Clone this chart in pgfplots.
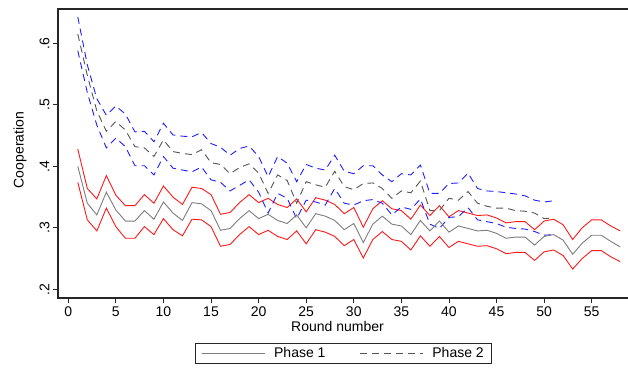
\documentclass[border=0pt]{standalone}
\usepackage{fontspec}
\setmainfont{Liberation Sans}
\usepackage{pgfplots}
\usepackage{pgfplotstable}
\pgfplotsset{compat=1.18}
\definecolor{cred}{RGB}{255,25,25}
\definecolor{cblue}{RGB}{30,30,255}
\definecolor{cgray}{RGB}{125,125,125}
\definecolor{cdgray}{RGB}{85,85,85}
\pgfplotstableread{
r m u l
1 0.400 0.428 0.374
2 0.340 0.364 0.313
3 0.321 0.347 0.295
4 0.358 0.385 0.332
5 0.329 0.353 0.302
6 0.311 0.336 0.283
7 0.311 0.336 0.283
8 0.328 0.354 0.302
9 0.314 0.340 0.289
10 0.342 0.368 0.315
11 0.324 0.350 0.297
12 0.312 0.338 0.287
13 0.341 0.366 0.314
14 0.339 0.364 0.313
15 0.328 0.354 0.302
16 0.296 0.322 0.270
17 0.299 0.325 0.273
18 0.315 0.341 0.289
19 0.328 0.354 0.302
20 0.315 0.341 0.289
21 0.322 0.348 0.296
22 0.312 0.338 0.286
23 0.307 0.333 0.281
24 0.321 0.347 0.295
25 0.300 0.326 0.274
26 0.323 0.349 0.297
27 0.319 0.345 0.293
28 0.312 0.338 0.286
29 0.297 0.323 0.271
30 0.307 0.333 0.281
31 0.276 0.301 0.251
32 0.306 0.331 0.281
33 0.319 0.344 0.294
34 0.306 0.331 0.281
35 0.303 0.328 0.278
36 0.289 0.314 0.264
37 0.312 0.337 0.287
38 0.295 0.320 0.270
39 0.311 0.336 0.286
40 0.293 0.318 0.268
41 0.303 0.328 0.278
42 0.299 0.324 0.274
43 0.295 0.320 0.270
44 0.296 0.321 0.271
45 0.291 0.316 0.266
46 0.283 0.308 0.258
47 0.285 0.310 0.260
48 0.285 0.310 0.260
49 0.272 0.297 0.247
50 0.286 0.311 0.261
51 0.289 0.314 0.264
52 0.280 0.305 0.255
53 0.257 0.281 0.233
54 0.275 0.300 0.250
55 0.288 0.313 0.263
56 0.288 0.313 0.263
57 0.278 0.303 0.253
58 0.269 0.295 0.245
}\phaseone
\pgfplotstableread{
r m u l
1 0.615 0.643 0.588
2 0.548 0.565 0.520
3 0.490 0.510 0.467
4 0.457 0.483 0.430
5 0.473 0.498 0.446
6 0.459 0.485 0.432
7 0.432 0.456 0.401
8 0.430 0.457 0.401
9 0.416 0.440 0.386
10 0.443 0.470 0.416
11 0.424 0.451 0.397
12 0.421 0.449 0.394
13 0.419 0.448 0.391
14 0.427 0.455 0.399
15 0.406 0.437 0.378
16 0.403 0.431 0.374
17 0.388 0.418 0.360
18 0.398 0.429 0.369
19 0.404 0.433 0.378
20 0.389 0.416 0.358
21 0.356 0.383 0.324
22 0.386 0.416 0.356
23 0.377 0.405 0.348
24 0.340 0.375 0.315
25 0.375 0.403 0.345
26 0.370 0.397 0.342
27 0.366 0.394 0.337
28 0.392 0.418 0.364
29 0.367 0.392 0.340
30 0.362 0.388 0.337
31 0.372 0.401 0.344
32 0.373 0.401 0.346
33 0.364 0.386 0.340
34 0.348 0.375 0.321
35 0.360 0.388 0.334
36 0.357 0.386 0.330
37 0.376 0.402 0.347
38 0.328 0.356 0.306
39 0.328 0.356 0.299
40 0.348 0.372 0.317
41 0.345 0.373 0.318
42 0.359 0.389 0.333
43 0.340 0.364 0.313
44 0.335 0.360 0.310
45 0.332 0.359 0.307
46 0.332 0.357 0.301
47 0.328 0.355 0.299
48 0.327 0.352 0.298
49 0.324 0.345 0.294
50 0.315 0.342 0.288
51 0.316 0.344 0.289
}\phasetwo
\begin{document}
\begin{tikzpicture}
\useasboundingbox (-58pt,-69pt) rectangle (570pt,298pt);
\begin{axis}[
  at={(0pt,0pt)}, anchor=south west,
  scale only axis, width=571pt, height=289pt,
  xmin=-1.08, xmax=58.92, ymin=0.1859, ymax=0.6558,
  font=\fontsize{14}{17}\selectfont,
  /pgf/number format/assume math mode=true,
  axis line style={line width=1.3pt, black!85},
  tick style={line width=0.8pt, black!85},
  tick align=outside, major tick length=5pt,
  xtick pos=bottom, ytick pos=left,
  xtick={0,5,...,55},
  ytick={0.2,0.3,0.4,0.5,0.6},
  yticklabels={.2,.3,.4,.5,.6},
  yticklabel style={rotate=90, anchor=south},
  xlabel={Round number}, ylabel={Cooperation},
  xlabel style={at={(axis description cs:0.4895,-0.097)}, anchor=center},
  ylabel style={at={(axis description cs:-0.0665,0.512)}, anchor=center},
  legend style={at={(axis description cs:0.5,0)}, anchor=north, yshift=-45pt,
    legend columns=2, draw=black!85, line width=0.8pt, inner xsep=6pt, inner ysep=2pt,
    /tikz/every odd column/.append style={column sep=7pt},
    /tikz/every even column/.append style={column sep=32pt}},
  legend cell align=left,
  legend image code/.code={\draw[#1] (0pt,0pt) -- (63pt,0pt);},
]
\addplot[cred, line width=0.9pt, forget plot] table[x=r, y=u] {\phaseone};
\addplot[cred, line width=0.9pt, forget plot] table[x=r, y=l] {\phaseone};
\addplot[cblue, line width=0.9pt, dash pattern=on 7pt off 5pt, forget plot] table[x=r, y=u] {\phasetwo};
\addplot[cblue, line width=0.9pt, dash pattern=on 7pt off 5pt, forget plot] table[x=r, y=l] {\phasetwo};
\addplot[cgray, line width=0.9pt] table[x=r, y=m] {\phaseone};
\addlegendentry{Phase 1}
\addplot[cdgray, line width=0.9pt, dash pattern=on 7pt off 5pt] table[x=r, y=m] {\phasetwo};
\addlegendentry{Phase 2}
\end{axis}
\end{tikzpicture}
\end{document}
